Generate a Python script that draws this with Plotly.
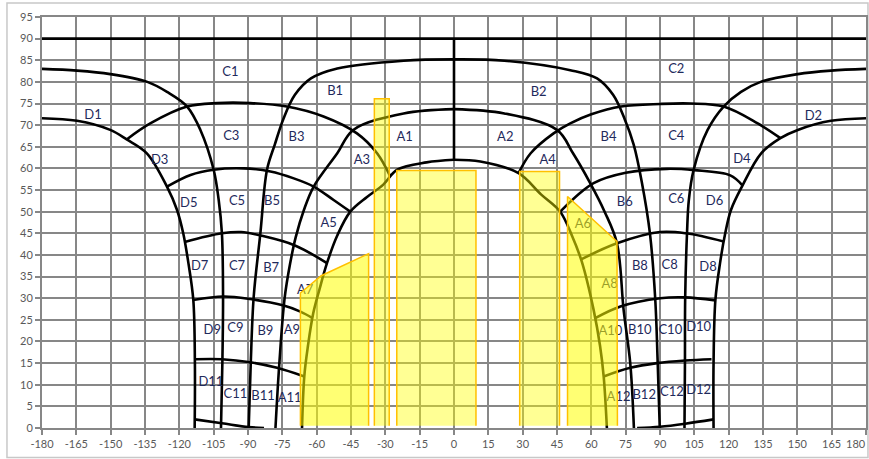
import plotly.graph_objects as go

# ---------------- data ----------------
x_ticks = list(range(-180, 181, 15))
y_ticks = list(range(0, 96, 5))

# horizon line and centre line
top_x = [-180, 180]
top_y = [90, 90]
centre_x = [0, 0]
centre_y = [62, 90]

# near-vertical boundary curves (left side)
l1_x = [-180, -164.7, -150.2, -143, -134.2, -125.4, -121, -118.3, -116, -113.9, -113.2, -113.3]
l1_y = [71.6, 71.0, 68.9, 66.7, 63.5, 55.8, 50.4, 45.0, 38.0, 29.6, 15.0, 0]
l2_x = [-180, -164.7, -150.2, -134, -125.4, -116.6, -110.8, -105, -102.8, -101.4, -100.9, -101.2, -101.8]
l2_y = [83.0, 82.6, 81.8, 80.0, 77.7, 74.3, 68.9, 59.7, 52.7, 45.0, 30.4, 15.0, 0]
l3_x = [0, -22, -51, -62.5, -69.5, -74.5, -78.3, -81.7, -84.6, -87.5, -88.8, -89.7]
l3_y = [85.2, 84.9, 83.1, 80.8, 77.0, 71.5, 65.5, 59.7, 45.0, 30.4, 15.0, 0]
l4_x = [0, -22, -44, -51, -61.3, -65.5, -69.2, -71.6, -74.0, -76.3, -78.0]
l4_y = [73.7, 72.7, 68.9, 63.5, 55.8, 50.5, 44.0, 38.0, 30.0, 15.0, 0]
l5_x = [0, -12, -24.8, -31, -38, -45.3, -51, -55.5, -58.8, -61.5, -63.8, -65.4, -66.4]
l5_y = [62.0, 61.4, 59.7, 56.2, 53.4, 50.0, 44.5, 38.1, 32.0, 26.5, 19.0, 12.0, 0]

# near-vertical boundary curves (right side)
r1_x = [180, 164.7, 150.2, 142.6, 134.2, 125.8, 121, 118.5, 116.2, 114.2, 113.4, 113.4]
r1_y = [71.6, 71.0, 68.9, 67.0, 63.5, 55.8, 50.4, 45.0, 38.0, 29.6, 15.0, 0]
r2_x = [180, 164.7, 150.2, 134, 125.4, 117.8, 110.8, 104.7, 102.6, 101.8, 101.0, 100.9, 100.7]
r2_y = [83.0, 82.6, 81.8, 80.0, 77.7, 74.3, 68.9, 59.7, 52.7, 45.0, 30.0, 15.0, 0]
r3_x = [0, 22, 50.8, 62.5, 69.5, 74.5, 78.5, 82.0, 85.6, 87.9, 89.0, 89.9]
r3_y = [85.2, 84.9, 82.7, 80.8, 77.0, 71.5, 65.5, 57.0, 45.0, 30.0, 15.0, 0]
r4_x = [0, 22, 45, 52, 59.5, 65.8, 71.2, 74.1, 77.0, 78.6]
r4_y = [73.7, 72.7, 68.9, 63.5, 56.6, 50.0, 42.7, 27.3, 15.0, 0]
r5_x = [0, 11.5, 28.2, 38, 46.4, 51.5, 55.8, 61.0, 63.8, 65.4, 66.8]
r5_y = [62.0, 61.6, 58.9, 54.0, 50.0, 44.5, 38.5, 27.3, 19.0, 11.9, 0]

# cross arcs (left side)
a0l_x = [-113.3, -101.4, -89.7, -83.0]
a0l_y = [2.0, 1.1, 0.2, 0]
a15l_x = [-113.0, -101.4, -89.0, -77.3, -65.4]
a15l_y = [15.9, 15.9, 15.2, 13.9, 11.9]
a30l_x = [-114.0, -100.7, -89.0, -74.4, -67.1, -61.8]
a30l_y = [29.6, 30.4, 29.8, 28.3, 26.9, 25.4]
a45l_x = [-117.7, -101.4, -93.0, -84.6, -69.5, -55.5]
a45l_y = [43.0, 45.0, 45.3, 44.5, 42.2, 38.1]
a60l_x = [-125.4, -115.1, -105.0, -91.9, -80.2, -70.0, -61.3, -52.6, -45.3]
a60l_y = [55.8, 58.5, 59.7, 60.0, 59.3, 57.7, 55.8, 52.7, 50.0]
a75l_x = [-143.0, -132.7, -116.6, -103.4, -89.0, -73.0, -57.0, -42.4, -33.6, -27.8]
a75l_y = [66.7, 70.4, 74.3, 75.1, 75.1, 74.3, 72.0, 68.1, 63.5, 58.1]

# cross arcs (right side)
a0r_x = [80.0, 89.9, 101.0, 113.4]
a0r_y = [0, 0.3, 1.0, 2.0]
a15r_x = [65.4, 77.0, 88.7, 101.0, 112.5]
a15r_y = [11.9, 13.9, 15.0, 15.6, 15.9]
a30r_x = [61.7, 72.7, 90.1, 101.0, 114.2]
a30r_y = [25.4, 28.1, 30.0, 30.2, 29.5]
a45r_x = [55.3, 71.2, 90.0, 101.5, 117.8]
a45r_y = [38.9, 42.7, 45.3, 45.0, 43.1]
a60r_x = [46.4, 61.0, 75.0, 93.0, 105.0, 120.7, 125.8]
a60r_y = [50.0, 56.6, 59.0, 59.9, 59.6, 58.4, 56.2]
a75r_x = [28.2, 33.5, 43.5, 50.8, 60.0, 73.0, 90.1, 103.4, 117.8, 132.7, 142.6]
a75r_y = [58.9, 63.5, 68.1, 70.4, 72.5, 74.3, 74.9, 75.0, 74.3, 70.4, 67.0]

# zone labels
label_text = ["C1", "B1", "B2", "C2", "D1", "D2", "C3", "B3", "A1", "A2", "B4", "C4",
              "D3", "A3", "A4", "D4", "D5", "C5", "B5", "B6", "C6", "D6", "A5", "A6",
              "D7", "C7", "B7", "B8", "C8", "D8", "A7", "A8", "D9", "C9", "B9", "A9",
              "A10", "B10", "C10", "D10", "D11", "C11", "B11", "A11", "A12", "B12", "C12", "D12"]
label_x = [-97.7, -51.9, 37.0, 97.1, -157.7, 157.0, -97.3, -68.8, -21.6, 22.4, 67.5, 97.1,
           -128.6, -40.2, 40.9, 125.8, -115.9, -94.8, -79.5, 74.6, 97.1, 113.8, -54.8, 56.3,
           -111.1, -94.8, -79.9, 81.2, 94.2, 111.0, -65.0, 68.0, -105.6, -95.5, -82.4, -70.8,
           68.3, 81.2, 94.5, 106.9, -106.2, -95.5, -83.4, -71.8, 71.9, 83.1, 95.2, 106.9]
label_y = [82.1, 77.7, 77.5, 82.7, 72.1, 72.0, 67.3, 67.2, 67.2, 67.0, 67.0, 67.4,
           61.8, 61.8, 61.8, 62.1, 51.9, 52.3, 52.3, 52.1, 52.7, 52.3, 47.3, 47.0,
           37.3, 37.3, 36.9, 37.3, 37.6, 37.0, 31.8, 33.1, 22.5, 22.9, 22.3, 22.5,
           22.3, 22.5, 22.5, 23.1, 10.5, 7.7, 7.2, 6.8, 7.1, 7.5, 8.1, 8.7]

# yellow highlighted areas
p1_x = [-67.1, -67.1, -58.0, -37.3, -37.3]
p1_y = [0.5, 31.2, 35.2, 40.3, 0.5]
p2_x = [-34.8, -34.8, -28.3, -28.3]
p2_y = [0.5, 76.1, 76.1, 0.5]
p3_x = [-25.0, -25.0, 9.6, 9.6]
p3_y = [0.5, 59.5, 59.5, 0.5]
p4_x = [28.7, 28.7, 46.1, 46.1]
p4_y = [0.5, 59.3, 59.3, 0.5]
p5_x = [49.6, 49.6, 71.2, 71.4]
p5_y = [0.5, 53.5, 43.1, 0.5]

# ---------------- figure ----------------
fig = go.Figure()

curves = [
    (top_x, top_y, "linear"), (centre_x, centre_y, "linear"),
    (l1_x, l1_y, "spline"), (l2_x, l2_y, "spline"), (l3_x, l3_y, "spline"),
    (l4_x, l4_y, "spline"), (l5_x, l5_y, "spline"),
    (r1_x, r1_y, "spline"), (r2_x, r2_y, "spline"), (r3_x, r3_y, "spline"),
    (r4_x, r4_y, "spline"), (r5_x, r5_y, "spline"),
    (a0l_x, a0l_y, "spline"), (a15l_x, a15l_y, "spline"), (a30l_x, a30l_y, "spline"),
    (a45l_x, a45l_y, "spline"), (a60l_x, a60l_y, "spline"), (a75l_x, a75l_y, "spline"),
    (a0r_x, a0r_y, "spline"), (a15r_x, a15r_y, "spline"), (a30r_x, a30r_y, "spline"),
    (a45r_x, a45r_y, "spline"), (a60r_x, a60r_y, "spline"), (a75r_x, a75r_y, "spline"),
]
for cx, cy, shp in curves:
    fig.add_trace(go.Scatter(
        x=cx, y=cy, mode="lines",
        line=dict(color="black", width=2.6, shape=shp, smoothing=1.0),
        hoverinfo="skip", showlegend=False, cliponaxis=False))

fig.add_trace(go.Scatter(
    x=label_x, y=label_y, text=label_text, mode="text",
    textposition="middle center",
    textfont=dict(family="Lato, 'Open Sans', sans-serif", size=13, color="#1f2a5c"),
    hoverinfo="skip", showlegend=False))

polys = [(p1_x, p1_y, 0.55), (p2_x, p2_y, 0.45), (p3_x, p3_y, 0.42),
         (p4_x, p4_y, 0.42), (p5_x, p5_y, 0.55)]
for px_, py_, op in polys:
    fig.add_trace(go.Scatter(
        x=px_, y=py_, mode="lines", fill="toself",
        fillcolor="rgba(255,255,0,%.2f)" % op,
        line=dict(color="#FFC000", width=1.5),
        hoverinfo="skip", showlegend=False))

tick_font = dict(family="Lato, 'Open Sans', sans-serif", size=11, color="#595959")
axis_common = dict(
    showgrid=True, gridcolor="#878787", gridwidth=2,
    showline=True, linecolor="#878787", linewidth=2, mirror=True,
    ticks="outside", ticklen=5, tickcolor="#878787", tickwidth=2,
    zeroline=False, automargin=False, tickfont=tick_font,
)
fig.update_xaxes(range=[-180, 180], tickvals=x_ticks, ticktext=[str(v) for v in x_ticks],
                 **axis_common)
fig.update_yaxes(range=[0, 95], tickvals=y_ticks, ticktext=[str(v) for v in y_ticks],
                 **axis_common)

# last x tick label sits on the page edge: keep it fully visible, right-aligned
fig.add_annotation(x=x_ticks[-1], xref="x", xanchor="right", xshift=2,
                   y=0, yref="paper", yanchor="middle", yshift=-15,
                   text=str(x_ticks[-1]), showarrow=False, font=tick_font)

fig.update_layout(
    width=869, height=459,
    margin=dict(l=42, r=3, t=17, b=31, autoexpand=False),
    paper_bgcolor="white", plot_bgcolor="white",
    showlegend=False,
    shapes=[dict(type="rect", xref="paper", yref="paper",
                 x0=-0.0425, x1=1.0024, y0=-0.0718, y1=1.034,
                 line=dict(color="#C8C8C8", width=1.5), fillcolor="rgba(0,0,0,0)",
                 layer="below")],
)

fig.write_html(
    "out.html",
    config={"displayModeBar": False},
    post_script="document.body.style.margin='0';document.body.style.overflow='hidden';",
)
